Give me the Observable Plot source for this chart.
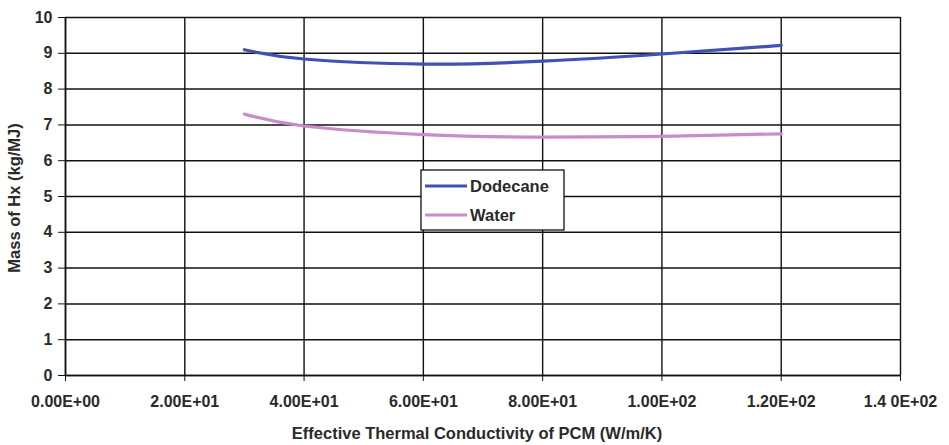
<!DOCTYPE html>
<html>
<head>
<meta charset="utf-8">
<script src="https://cdn.jsdelivr.net/npm/d3@7"></script>
<script src="https://cdn.jsdelivr.net/npm/@observablehq/plot@0.6"></script>
<style>
  html, body { margin: 0; padding: 0; background: #fff; }
  #chart svg { display: block; }
</style>
</head>
<body>
<div id="chart"></div>
<script>
// ---- data ----
const conductivity = [30, 40, 60, 80, 100, 120];
const dodecane = [9.10, 8.84, 8.70, 8.78, 8.98, 9.22];
const water = [7.30, 6.97, 6.73, 6.66, 6.68, 6.75];
const seriesNames = ["Dodecane", "Water"];
const xTicks = [0, 20, 40, 60, 80, 100, 120, 140];
const xTickLabels = ["0.00E+00", "2.00E+01", "4.00E+01", "6.00E+01", "8.00E+01", "1.00E+02", "1.20E+02", "1.4 0E+02"];
const yTicks = [0, 1, 2, 3, 4, 5, 6, 7, 8, 9, 10];
const xTitle = "Effective Thermal Conductivity of PCM (W/m/K)";
const yTitle = "Mass of Hx (kg/MJ)";

const colors = { Dodecane: "#4150b4", Water: "#c88cc8" };
const rows = [];
conductivity.forEach((x, i) => {
  rows.push({ series: "Dodecane", x, y: dodecane[i] });
  rows.push({ series: "Water", x, y: water[i] });
});

const FONT = "'Liberation Sans', Arial, sans-serif";
const INK = "#2a2a2a";

const chart = Plot.plot({
  width: 949,
  height: 445,
  marginLeft: 65,
  marginRight: 49,
  marginTop: 17,
  marginBottom: 70,
  style: { fontFamily: FONT, fontSize: "16px", fontWeight: "bold", color: INK, background: "#fff" },
  x: { domain: [0, 140] },
  y: { domain: [0, 10] },
  color: { domain: seriesNames, range: seriesNames.map(s => colors[s]) },
  marks: [
    Plot.gridX(xTicks, { stroke: "#111", strokeOpacity: 1, strokeWidth: 1.4 }),
    Plot.gridY(yTicks, { stroke: "#111", strokeOpacity: 1, strokeWidth: 1.5 }),
    Plot.ruleX([0], { stroke: "#111", strokeWidth: 1.6 }),
    Plot.ruleY([0], { stroke: "#111", strokeWidth: 1.6 }),
    Plot.axisX(xTicks, {
      tickFormat: (d, i) => xTickLabels[i],
      tickSize: 6, tickPadding: 14, fontSize: 16, label: null, stroke: "#111"
    }),
    Plot.axisY(yTicks, {
      tickSize: 7, tickPadding: 6, fontSize: 16, label: null, stroke: "#111"
    }),
    Plot.line(rows, {
      x: "x", y: "y", z: "series", stroke: "series",
      curve: "natural", strokeWidth: 3.2
    })
  ]
});

document.getElementById("chart").appendChild(chart);

// ---- titles and legend ----
const svg = d3.select(chart);
svg.append("text")
  .attr("x", 477).attr("y", 433).attr("dy", "0.35em")
  .attr("text-anchor", "middle")
  .attr("font-family", FONT).attr("font-size", 16.5).attr("font-weight", "bold")
  .attr("fill", INK)
  .text(xTitle);
svg.append("text")
  .attr("transform", "translate(14,198) rotate(-90)")
  .attr("dy", "0.35em")
  .attr("text-anchor", "middle")
  .attr("font-family", FONT).attr("font-size", 16.5).attr("font-weight", "bold")
  .attr("fill", INK)
  .text(yTitle);

const lg = svg.append("g").attr("transform", "translate(421,170)");
lg.append("rect").attr("width", 143).attr("height", 60)
  .attr("fill", "#fff").attr("stroke", "#111").attr("stroke-width", 1.3);
seriesNames.forEach((s, i) => {
  const cy = 16 + i * 29;
  lg.append("line").attr("x1", 4).attr("x2", 46).attr("y1", cy).attr("y2", cy)
    .attr("stroke", colors[s]).attr("stroke-width", 3.2);
  lg.append("text").attr("x", 49).attr("y", cy).attr("dy", "0.35em")
    .attr("text-anchor", "start")
    .attr("font-family", FONT).attr("font-size", 16.5).attr("font-weight", "bold")
    .attr("fill", INK)
    .text(s);
});
</script>
</body>
</html>
